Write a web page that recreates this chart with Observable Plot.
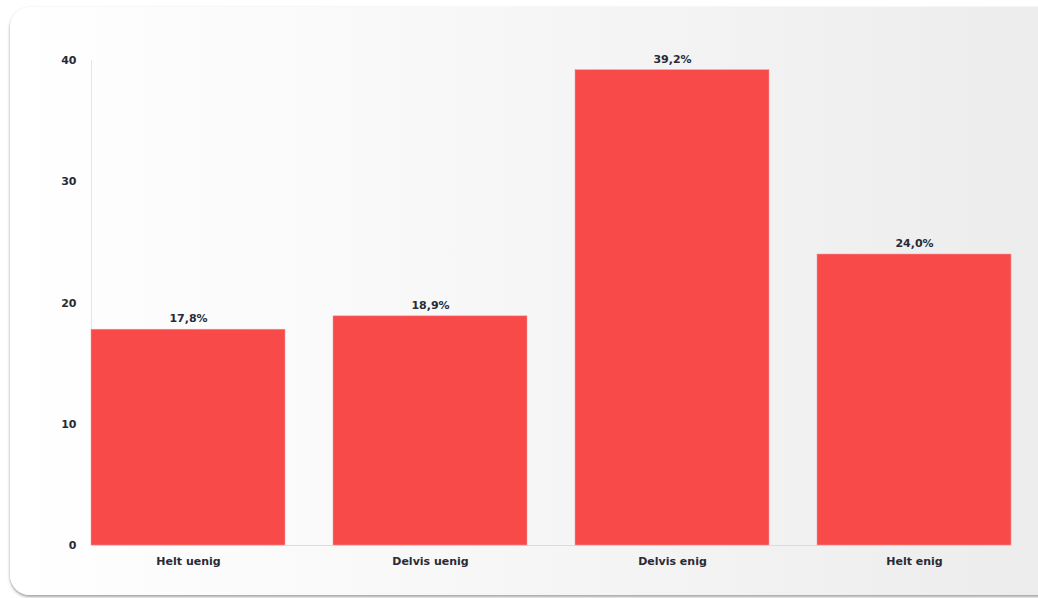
<!DOCTYPE html>
<html>
<head>
<meta charset="utf-8">
<script src="https://cdn.jsdelivr.net/npm/d3@7"></script>
<script src="https://cdn.jsdelivr.net/npm/@observablehq/plot@0.6"></script>
<style>
  html, body { margin: 0; padding: 0; background: #ffffff; width: 1038px; height: 598px; overflow: hidden; }
  #card {
    position: absolute; left: 10px; top: 7px; width: 1050px; height: 588px;
    border-radius: 20px;
    background: linear-gradient(to right, #ffffff 0%, #f6f6f6 50%, #ececec 100%);
    box-shadow: 0 2px 3px rgba(0,0,0,0.35), 0 0 2px rgba(0,0,0,0.08);
  }
  #chart { position: absolute; left: 0; top: 0; }
  #chart svg { background: transparent; }
</style>
</head>
<body>
<div id="card"></div>
<div id="chart"></div>
<script>
const categories = ["Helt uenig", "Delvis uenig", "Delvis enig", "Helt enig"];
const values = [17.8, 18.9, 39.2, 24.0];
const valueLabels = ["17,8%", "18,9%", "39,2%", "24,0%"];
const yTicks = [0, 10, 20, 30, 40];

const data = categories.map((c, i) => ({category: c, value: values[i], label: valueLabels[i]}));

const chart = Plot.plot({
  width: 1038,
  height: 598,
  marginLeft: 91,
  marginRight: 27,
  marginTop: 60,
  marginBottom: 53,
  style: {fontFamily: "'DejaVu Sans', Verdana, sans-serif", fontSize: "11px", fontWeight: "bold", color: "#2a2a35", background: "transparent"},
  x: {domain: categories, paddingInner: 0.2, paddingOuter: 0, label: null, tickSize: 0, tickPadding: 12},
  y: {domain: [0, 40], ticks: yTicks, label: null, tickSize: 0, tickPadding: 15},
  marks: [
    Plot.ruleX([0], {x: () => categories[0], dx: -97, stroke: "#e6e6e6"}),
    Plot.ruleY([0], {stroke: "#dcdcdc"}),
    Plot.barY(data, {x: "category", y: "value", fill: "#f94a4a", stroke: "#e8a0a0", strokeWidth: 0.5}),
    Plot.text(data, {x: "category", y: "value", text: "label", dy: -11, fill: "#2a2a35", fontSize: 11, fontWeight: "bold"})
  ]
});
document.getElementById("chart").appendChild(chart);
</script>
</body>
</html>
